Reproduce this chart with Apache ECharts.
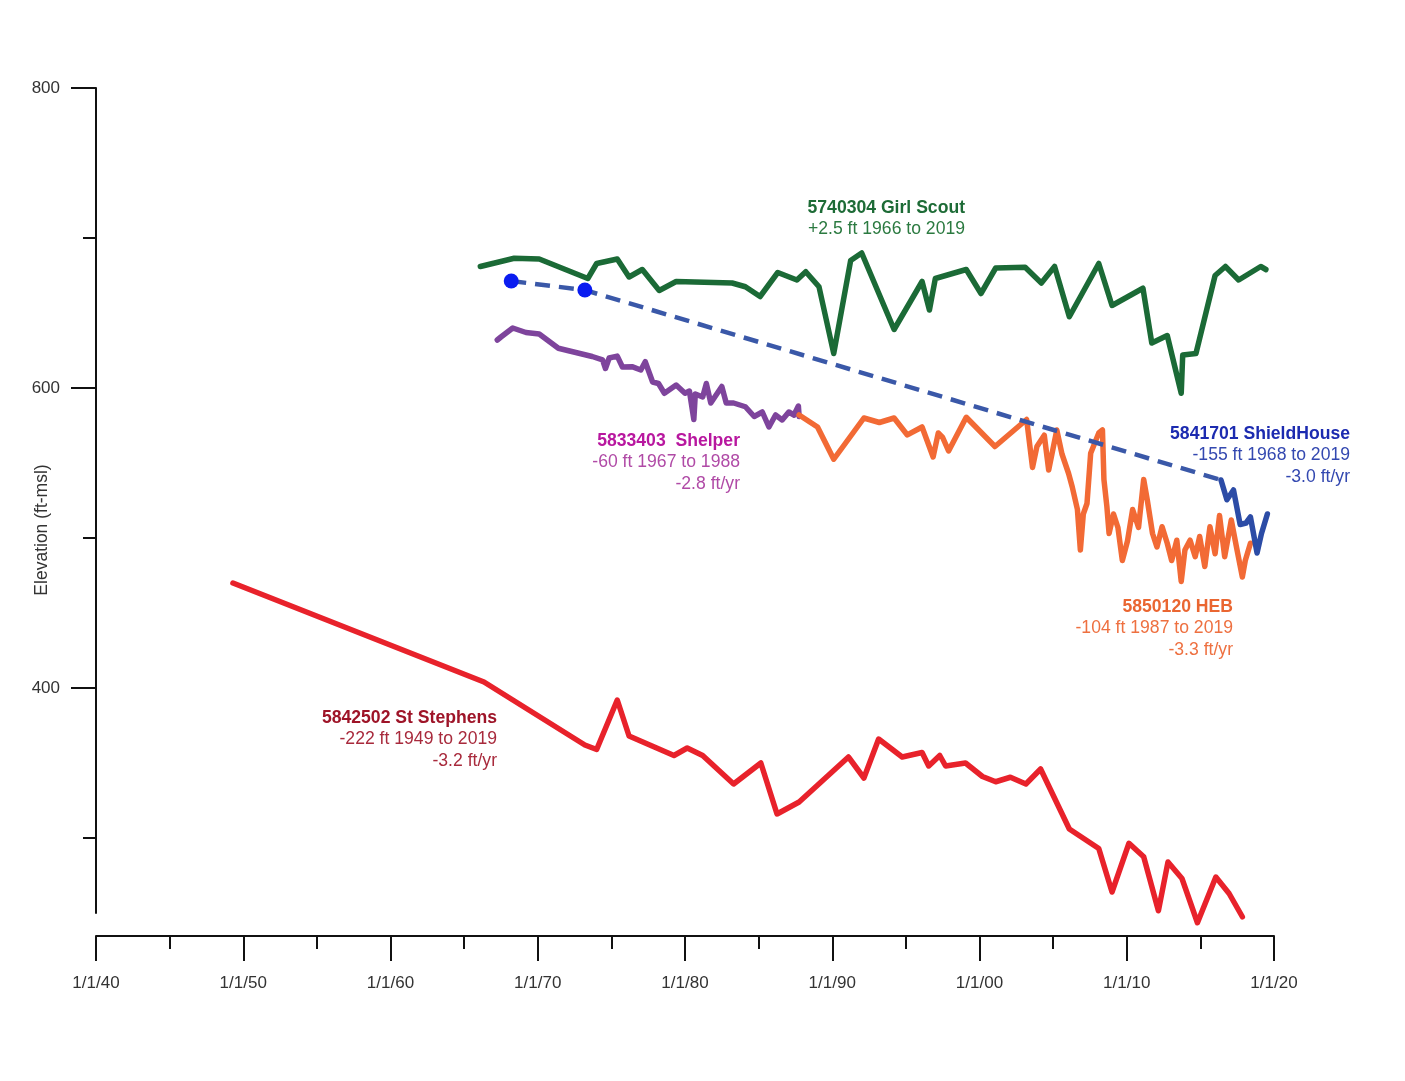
<!DOCTYPE html>
<html>
<head>
<meta charset="utf-8">
<title>Water level elevations</title>
<script src="https://cdn.jsdelivr.net/npm/echarts@6/dist/echarts.min.js"></script>
<style>
  html, body { margin: 0; padding: 0; background: #fff; }
  #main { width: 1405px; height: 1081px; }
</style>
</head>
<body>
<div id="main"></div>
<script>
// [year, elevation ft-msl]
const girlScout = [
  [1966.1, 681], [1968.4, 686.5], [1970.1, 686], [1973.4, 673], [1974.0, 683], [1975.4, 686],
  [1976.2, 674], [1977.1, 679], [1978.25, 665], [1979.4, 671], [1983.2, 670], [1984.1, 667.5],
  [1985.1, 661], [1986.3, 677], [1987.6, 672], [1988.2, 677.5], [1989.1, 667.5], [1990.1, 623],
  [1991.25, 685], [1992.0, 690], [1994.2, 639], [1996.1, 671], [1996.6, 652], [1997.0, 673],
  [1999.1, 679], [2000.1, 663], [2001.1, 680], [2003.1, 680.5], [2004.2, 670], [2005.1, 681],
  [2006.1, 647.5], [2008.1, 683], [2009.0, 655], [2011.1, 666.5], [2011.7, 630], [2012.75, 635],
  [2013.7, 596.5], [2013.8, 622], [2014.7, 623], [2016.0, 675], [2016.7, 681], [2017.6, 672],
  [2019.1, 681], [2019.45, 679]
];

const shelper = [
  [1967.25, 632], [1967.5, 634], [1968.3, 640], [1969.2, 637], [1970.1, 636], [1971.4, 626.5],
  [1973.7, 621], [1974.4, 618.7], [1974.6, 613], [1974.85, 620], [1975.4, 621.3], [1975.75, 614],
  [1976.4, 614.2], [1977.0, 612], [1977.3, 617.5], [1977.8, 604], [1978.2, 603], [1978.6, 596.5],
  [1979.4, 602], [1980.0, 596.5], [1980.3, 598], [1980.6, 579], [1980.7, 596], [1981.2, 594],
  [1981.45, 603], [1981.75, 590], [1982.5, 601], [1982.8, 590], [1983.3, 590], [1984.1, 587.5],
  [1984.7, 581], [1985.25, 584], [1985.7, 574], [1986.15, 582], [1986.6, 578.7], [1987.05, 584],
  [1987.4, 582], [1987.7, 588], [1987.75, 581]
];

const heb = [
  [1987.75, 582], [1989.0, 574], [1990.1, 552.5], [1992.15, 580], [1993.2, 577], [1994.2, 580],
  [1995.1, 568.7], [1996.1, 574], [1996.85, 554], [1997.2, 570], [1997.5, 567], [1997.9, 558],
  [1999.1, 580.5], [2001.05, 561], [2003.2, 579], [2003.6, 547], [2003.9, 561], [2004.4, 568.5],
  [2004.7, 545.3], [2005.25, 572], [2005.6, 556], [2006.05, 543], [2006.3, 534], [2006.65, 519],
  [2006.85, 492], [2007.05, 516], [2007.3, 523], [2007.55, 556.5], [2008.1, 570], [2008.35, 572],
  [2008.45, 539], [2008.65, 521], [2008.8, 503], [2009.1, 516], [2009.4, 507], [2009.7, 485],
  [2010.05, 498], [2010.4, 519], [2010.8, 507], [2011.15, 539], [2011.4, 525], [2011.75, 503],
  [2012.05, 494], [2012.4, 507.5], [2012.75, 496.5], [2013.05, 485], [2013.4, 498.5], [2013.7, 471],
  [2013.95, 492], [2014.3, 498.5], [2014.65, 487.5], [2014.95, 501], [2015.3, 481], [2015.65, 507.5],
  [2016.0, 489.5], [2016.3, 515], [2016.65, 487.5], [2017.1, 512], [2017.45, 494], [2017.85, 474],
  [2018.05, 485], [2018.4, 496.5]
];

// ShieldHouse: two early readings, long gap (dashed), then recent record
const shieldEarly = [[1968.2, 671.3], [1973.2, 665.3]];
const shieldGap = [[1968.2, 671.3], [1973.2, 665.3], [2016.4, 538.7]];
const shieldRecent = [
  [2016.4, 538.7], [2016.8, 525.5], [2017.25, 532], [2017.7, 509], [2018.1, 510], [2018.4, 514],
  [2018.85, 490], [2019.15, 503], [2019.55, 516]
];

const stStephens = [
  [1949.3, 470], [1966.35, 404], [1973.2, 362], [1974.0, 359], [1975.4, 392], [1976.2, 368],
  [1979.25, 355], [1980.15, 360], [1981.2, 355], [1983.3, 336], [1985.15, 350], [1986.25, 316],
  [1987.75, 324], [1991.1, 354], [1992.15, 340], [1993.15, 366], [1994.75, 354], [1996.1, 357],
  [1996.55, 348], [1997.3, 355], [1997.7, 348], [1999.05, 350], [2000.2, 341], [2001.1, 337.5],
  [2002.1, 340.5], [2003.15, 336], [2004.15, 346], [2006.1, 306], [2008.1, 293], [2009.0, 264],
  [2010.15, 296.5], [2011.15, 287.5], [2012.15, 251.5], [2012.8, 284], [2013.75, 273], [2014.8, 243.5],
  [2016.05, 274], [2016.95, 263], [2017.85, 247.5]
];

const yLabelTicks = [400, 600, 800];
const yMinorTicks = [300, 500, 700];

const noteGirlScout = ['5740304 Girl Scout', '+2.5 ft 1966 to 2019'];
const noteShelper = ['5833403  Shelper', '-60 ft 1967 to 1988', '-2.8 ft/yr'];
const noteShield = ['5841701 ShieldHouse', '-155 ft 1968 to 2019', '-3.0 ft/yr'];
const noteHeb = ['5850120 HEB', '-104 ft 1987 to 2019', '-3.3 ft/yr'];
const noteStStephens = ['5842502 St Stephens', '-222 ft 1949 to 2019', '-3.2 ft/yr'];

const FONT = '"Liberation Sans", Arial, sans-serif';

// stacked right-aligned note, first line bold
function note(lines, right, top, boldColor, color) {
  return lines.map((t, i) => ({
    type: 'text',
    x: right,
    y: top + i * 21.5,
    z: 100,
    style: {
      text: t,
      fill: i === 0 ? boldColor : color,
      font: (i === 0 ? 'bold ' : '') + '17.6px ' + FONT,
      textAlign: 'right',
      textVerticalAlign: 'middle'
    }
  }));
}

function lineSeries(name, data, color, extra) {
  return Object.assign({
    name: name,
    type: 'line',
    data: data,
    showSymbol: false,
    symbol: 'none',
    clip: false,
    animation: false,
    lineStyle: { color: color, width: 5.5, join: 'round', cap: 'round' }
  }, extra || {});
}

let chart = echarts.init(document.getElementById('main'));
let option = {
  backgroundColor: '#fff',
  animation: false,
  textStyle: { fontFamily: FONT },
  grid: { left: 96, right: 131, top: 88, bottom: 168 },
  xAxis: {
    type: 'value',
    min: 1940,
    max: 2020,
    interval: 10,
    offset: 23,
    axisLine: { show: true, lineStyle: { color: '#111', width: 2 } },
    axisTick: { show: true, length: 25, lineStyle: { color: '#111', width: 2 } },
    minorTick: { show: true, splitNumber: 2, length: 13, lineStyle: { color: '#111', width: 2 } },
    splitLine: { show: false },
    minorSplitLine: { show: false },
    axisLabel: {
      margin: 39,
      fontSize: 17,
      color: '#333',
      formatter: v => '1/1/' + String(Math.round(v) % 100).padStart(2, '0')
    }
  },
  yAxis: [
    {
      type: 'value',
      min: 250,
      max: 800,
      position: 'left',
      axisLine: { show: true, lineStyle: { color: '#111', width: 2 } },
      axisTick: { show: true, length: 25, customValues: yLabelTicks, lineStyle: { color: '#111', width: 2 } },
      axisLabel: { customValues: yLabelTicks, margin: 36, fontSize: 17, color: '#333' },
      splitLine: { show: false }
    },
    {
      type: 'value',
      min: 250,
      max: 800,
      position: 'left',
      axisLine: { show: false },
      axisTick: { show: true, length: 13, customValues: yMinorTicks, lineStyle: { color: '#111', width: 2 } },
      axisLabel: { show: false },
      splitLine: { show: false }
    }
  ],
  graphic: [
    {
      type: 'text',
      x: 42,
      y: 530,
      rotation: Math.PI / 2,
      style: {
        text: 'Elevation (ft-msl)',
        fill: '#333',
        font: '17.5px ' + FONT,
        textAlign: 'center',
        textVerticalAlign: 'middle'
      }
    },
    ...note(noteGirlScout, 965, 208, '#1d6b36', '#2b7a40'),
    ...note(noteShelper, 740, 441, '#b8179f', '#b04aa6'),
    ...note(noteShield, 1350, 434, '#1c2bb0', '#3348b0'),
    ...note(noteHeb, 1233, 607, '#ea6631', '#ee7040'),
    ...note(noteStStephens, 497, 718, '#9e1428', '#a82a3c')
  ],
  series: [
    lineSeries('5842502 St Stephens', stStephens, '#e8222b'),
    lineSeries('5740304 Girl Scout', girlScout, '#1b6a36'),
    lineSeries('5833403 Shelper', shelper, '#7e449c'),
    lineSeries('5850120 HEB', heb, '#f26a35'),
    lineSeries('5841701 ShieldHouse gap', shieldGap, '#3a58a8', {
      lineStyle: { color: '#3a58a8', width: 4.5, type: [15, 9], cap: 'butt' }
    }),
    lineSeries('5841701 ShieldHouse', shieldRecent, '#2c4ca6'),
    {
      name: '5841701 ShieldHouse early',
      type: 'scatter',
      data: shieldEarly,
      symbolSize: 15,
      itemStyle: { color: '#0a1cf0', opacity: 1 },
      z: 5
    }
  ]
};
chart.setOption(option);
</script>
</body>
</html>
